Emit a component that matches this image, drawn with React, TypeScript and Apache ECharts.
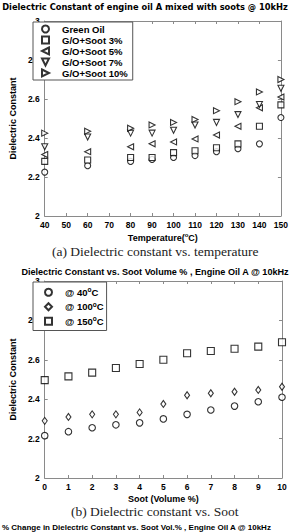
import React, { useEffect, useRef } from "react";
import * as echarts from "echarts";

// ---- Chart (a): dielectric constant vs temperature ----
const temps = [40, 60, 80, 90, 100, 110, 120, 130, 140, 150];
const greenOil = [2.225, 2.258, 2.28, 2.29, 2.30, 2.31, 2.33, 2.345, 2.37, 2.505];
const soot3 = [2.28, 2.287, 2.30, 2.30, 2.325, 2.335, 2.35, 2.37, 2.46, 2.57];
const soot5 = [2.315, 2.33, 2.355, 2.37, 2.38, 2.395, 2.415, 2.46, 2.555, 2.61];
const soot7 = [2.355, 2.405, 2.425, 2.425, 2.44, 2.467, 2.48, 2.52, 2.572, 2.655];
const soot10 = [2.425, 2.435, 2.45, 2.467, 2.48, 2.495, 2.54, 2.586, 2.636, 2.70];
const tempTicks = { min: 40, max: 150, interval: 10 };

// ---- Chart (b): dielectric constant vs soot volume ----
const sootVol = [0, 1, 2, 3, 4, 5, 6, 7, 8, 9, 10];
const at40 = [2.215, 2.235, 2.255, 2.27, 2.28, 2.30, 2.323, 2.345, 2.365, 2.387, 2.41];
const at100 = [2.29, 2.31, 2.323, 2.323, 2.333, 2.376, 2.42, 2.43, 2.438, 2.447, 2.463];
const at150 = [2.497, 2.516, 2.535, 2.558, 2.579, 2.60, 2.633, 2.645, 2.656, 2.667, 2.689];
const sootTicks = { min: 0, max: 10, interval: 1 };
const yTicks = { min: 2, max: 3, interval: 0.2 };

const FONT = "Liberation Sans";
const AXIS_GRAY = "#8a8a8a";

const TRI_LEFT = "path://M10,0 L0,5 L10,10 Z";
const TRI_DOWN = "path://M0,0 L10,0 L5,10 Z";
const TRI_RIGHT = "path://M0,0 L10,5 L0,10 Z";

function pairs(xs: number[], ys: number[]) {
  return xs.map((x, i) => [x, ys[i]]);
}

function xAxisPair(gridIndex: number, range: any, name: string) {
  const common = {
    gridIndex,
    type: "value",
    ...range,
    axisLine: { show: true, onZero: false, lineStyle: { color: AXIS_GRAY, width: 1 } },
    axisTick: { show: true, inside: true, length: 3, lineStyle: { color: AXIS_GRAY } },
    splitLine: { show: false },
  };
  return [
    {
      ...common,
      position: "bottom",
      name,
      nameLocation: "middle",
      nameGap: 16,
      nameTextStyle: {
        fontFamily: FONT, fontWeight: "bold", fontSize: 9, color: "#000",
        rich: {
          t: { fontFamily: FONT, fontWeight: "bold", fontSize: 9, color: "#000" },
          sup: { fontFamily: FONT, fontWeight: "bold", fontSize: 6, color: "#000", verticalAlign: "top", padding: [0, 0, 6, 0] },
        },
      },
      axisLabel: { fontFamily: FONT, fontWeight: "bold", fontSize: 8.5, color: "#000", margin: 4 },
    },
    { ...common, position: "top", axisLabel: { show: false } },
  ];
}

function yAxisPair(gridIndex: number) {
  const common = {
    gridIndex,
    type: "value",
    ...yTicks,
    axisLine: { show: true, onZero: false, lineStyle: { color: AXIS_GRAY, width: 1 } },
    axisTick: { show: true, inside: true, length: 3, lineStyle: { color: AXIS_GRAY } },
    splitLine: { show: false },
  };
  return [
    {
      ...common,
      position: "left",
      name: "Dielectric Constant",
      nameLocation: "middle",
      nameGap: 21,
      nameTextStyle: { fontFamily: FONT, fontWeight: "bold", fontSize: 9, color: "#000" },
      axisLabel: { fontFamily: FONT, fontWeight: "bold", fontSize: 8.5, color: "#000", margin: 5 },
    },
    { ...common, position: "right", axisLabel: { show: false } },
  ];
}

const markerStyle = { color: "#fff", borderColor: "#000", borderWidth: 1.1 };

function scatter(name: string, xs: number[], ys: number[], symbol: string, size: any, axis: number) {
  return {
    type: "scatter",
    name,
    xAxisIndex: axis,
    yAxisIndex: axis,
    symbol,
    symbolSize: size,
    itemStyle: markerStyle,
    data: pairs(xs, ys),
  };
}

const legendRich = {
  t: { fontFamily: FONT, fontWeight: "bold", fontSize: 9.5, color: "#000", padding: [0, 0, 0, 0] },
  p: { fontFamily: FONT, fontWeight: "bold", fontSize: 9.5, color: "#000", padding: [0, 0, 0, 8] },
  sup: { fontFamily: FONT, fontWeight: "bold", fontSize: 6.5, color: "#000", verticalAlign: "top", padding: [0, 0, 6, 0] },
};

export default function App() {
  const ref = useRef<HTMLDivElement>(null);
  useEffect(() => {
    if (!ref.current) return;
    const chart = echarts.init(ref.current, undefined, { renderer: "svg" });
    const topNames = ["Green Oil", "G/O+Soot 3%", "G/O+Soot 5%", "G/O+Soot 7%", "G/O+Soot 10%"];
    const botNames = ["@ 40°C", "@ 100°C", "@ 150°C"];
    chart.setOption({
      animation: false,
      backgroundColor: "#fff",
      title: [
        {
          text: "Dielectric Constant of engine oil A mixed with soots @ 10kHz",
          left: 145,
          textAlign: "center",
          top: 3,
          padding: 0,
          textStyle: { fontFamily: "DejaVu Sans", fontWeight: "bold", fontSize: 8.3, color: "#000" },
        },
        {
          text: "Dielectric Constant vs. Soot Volume % , Engine Oil A @ 10kHz",
          left: 155,
          textAlign: "center",
          top: 267,
          padding: 0,
          textStyle: { fontFamily: FONT, fontWeight: "bold", fontSize: 9.1, color: "#000" },
        },
      ],
      grid: [
        { left: 31, top: 21, width: 251, height: 195 },
        { left: 31, top: 281, width: 251, height: 197 },
      ],
      xAxis: [
        ...xAxisPair(0, tempTicks, "{t|Temperature(}{sup|o}{t|C)}"),
        ...xAxisPair(1, sootTicks, "Soot (Volume %)"),
      ],
      yAxis: [...yAxisPair(0), ...yAxisPair(1)],
      legend: [
        {
          data: topNames,
          orient: "vertical",
          left: 33,
          top: 22,
          itemWidth: 7,
          itemHeight: 7,
          itemGap: 1,
          padding: [2, 5, 2, 8],
          borderColor: "#555",
          borderWidth: 1,
          backgroundColor: "#fff",
          selectedMode: false,
          formatter: (n: string) => "{p|" + n + "}",
          textStyle: { fontFamily: FONT, fontWeight: "bold", fontSize: 9.5, color: "#000", lineHeight: 10, rich: legendRich },
        },
        {
          data: botNames,
          orient: "vertical",
          left: 33,
          top: 282,
          itemWidth: 7,
          itemHeight: 7,
          itemGap: 2,
          padding: [4, 3, 3, 11],
          borderColor: "#555",
          borderWidth: 1,
          backgroundColor: "#fff",
          selectedMode: false,
          formatter: (n: string) => {
            const m = n.replace("°C", "");
            return "{p|" + m + "}{sup|o}{t|C}";
          },
          textStyle: { fontFamily: FONT, fontWeight: "bold", fontSize: 9.5, color: "#000", lineHeight: 12.5, rich: legendRich },
        },
      ],
      series: [
        scatter(topNames[0], temps, greenOil, "circle", 6, 0),
        scatter(topNames[1], temps, soot3, "rect", 6, 0),
        scatter(topNames[2], temps, soot5, TRI_LEFT, 6, 0),
        scatter(topNames[3], temps, soot7, TRI_DOWN, 6, 0),
        scatter(topNames[4], temps, soot10, TRI_RIGHT, 6, 0),
        scatter(botNames[0], sootVol, at40, "circle", 6.5, 2),
        scatter(botNames[1], sootVol, at100, "diamond", [5, 7], 2),
        scatter(botNames[2], sootVol, at150, "rect", 7, 2),
      ],
      graphic: [
        {
          type: "text",
          left: 52,
          top: 244,
          style: {
            text: "(a) Dielectric constant vs. temperature",
            font: "13.5px 'Liberation Serif'",
            fill: "#222",
          },
        },
        {
          type: "text",
          left: 71,
          top: 504,
          style: {
            text: "(b) Dielectric constant vs. Soot",
            font: "13.5px 'Liberation Serif'",
            fill: "#222",
          },
        },
        {
          type: "text",
          left: 2,
          top: 523,
          style: {
            text: "% Change in Dielectric Constant vs. Soot Vol.% , Engine Oil A @ 10kHz",
            font: "bold 8px 'Liberation Sans'",
            fill: "#000",
          },
        },
      ],
    });
    return () => chart.dispose();
  }, []);
  return (
    <div
      ref={ref}
      style={{ position: "absolute", left: 0, top: 0, width: 291, height: 532, background: "#fff" }}
    />
  );
}
